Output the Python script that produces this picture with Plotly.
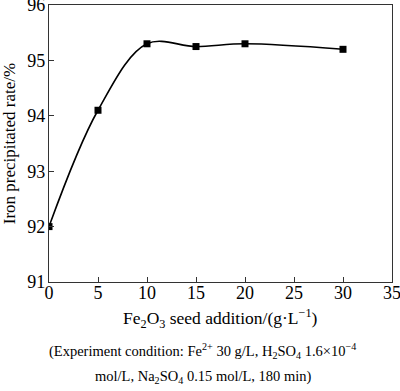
import plotly.graph_objects as go

seed_addition = [0, 5, 10, 15, 20, 30]
iron_rate = [92.0, 94.1, 95.3, 95.25, 95.3, 95.2]
x_ticks = [0, 5, 10, 15, 20, 25, 30, 35]
y_ticks = [91, 92, 93, 94, 95, 96]

FONT = "Liberation Serif"

fig = go.Figure()
fig.add_trace(go.Scatter(
    x=seed_addition, y=iron_rate, mode="lines+markers",
    line=dict(color="black", width=1.6, shape="spline", smoothing=1.0),
    marker=dict(symbol="square", size=7, color="black"),
    showlegend=False,
))

axis_common = dict(
    showline=True, linecolor="#333", linewidth=1.2, mirror=True,
    ticks="inside", ticklen=5, tickcolor="#333", tickwidth=1,
    showgrid=False, zeroline=False, automargin=False,
    ticklabeloverflow="allow",
    tickfont=dict(family=FONT, size=18, color="black"),
)
fig.update_xaxes(range=[0, 35], tickvals=x_ticks, ticklabelstandoff=-6, **axis_common)
fig.update_yaxes(range=[91, 96], tickvals=y_ticks, ticklabelstandoff=-1, **axis_common,
                 title=dict(text="Iron precipitated rate/%",
                            font=dict(family=FONT, size=17, color="black")))

PLOT_H = 277
fig.add_annotation(
    text="Fe<sub>2</sub>O<sub>3</sub> seed addition/(g·L<sup>−1</sup>)",
    xref="paper", yref="paper", x=0.5, y=-(318 - 282) / PLOT_H,
    showarrow=False, font=dict(family=FONT, size=17.5, color="black"),
    xanchor="center", yanchor="middle")

cap_font = dict(family=FONT, size=14.5, color="black")
fig.add_annotation(
    text="(Experiment condition: Fe<sup>2+</sup> 30 g/L, H<sub>2</sub>SO<sub>4</sub> 1.6×10<sup>−4</sup>",
    xref="paper", yref="paper", x=(202 - 49) / 343, y=-(351 - 282) / PLOT_H,
    showarrow=False, font=cap_font, xanchor="center", yanchor="middle")
fig.add_annotation(
    text="mol/L, Na<sub>2</sub>SO<sub>4</sub> 0.15 mol/L, 180 min)",
    xref="paper", yref="paper", x=(203 - 49) / 343, y=-(377 - 282) / PLOT_H,
    showarrow=False, font=cap_font, xanchor="center", yanchor="middle")

fig.update_layout(
    width=400, height=391,
    margin=dict(l=49, r=8, t=5, b=109),
    plot_bgcolor="white", paper_bgcolor="white",
)
fig.write_html("out.html", config={"displayModeBar": False},
               post_script="document.body.style.margin='0';")
